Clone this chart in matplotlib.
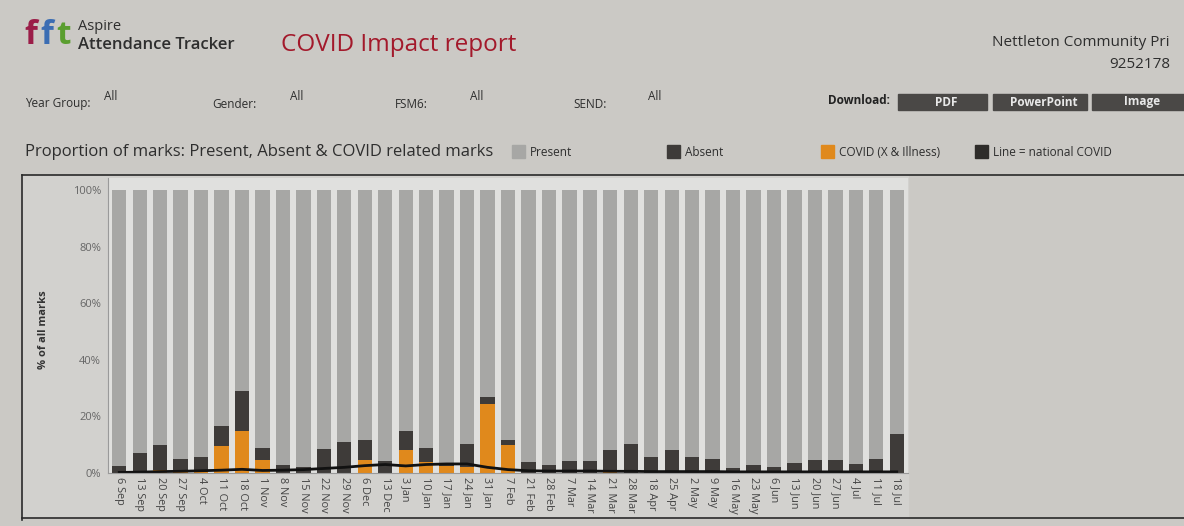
import numpy as np
import matplotlib.pyplot as plt
from matplotlib.patches import Rectangle
from matplotlib.lines import Line2D

# week labels (x axis)
weeks = ['6 Sep', '13 Sep', '20 Sep', '27 Sep', '4 Oct', '11 Oct', '18 Oct',
         '1 Nov', '8 Nov', '15 Nov', '22 Nov', '29 Nov', '6 Dec', '13 Dec',
         '3 Jan', '10 Jan', '17 Jan', '24 Jan', '31 Jan', '7 Feb', '21 Feb',
         '28 Feb', '7 Mar', '14 Mar', '21 Mar', '28 Mar', '18 Apr', '25 Apr',
         '2 May', '9 May', '16 May', '23 May', '6 Jun', '13 Jun', '20 Jun',
         '27 Jun', '4 Jul', '11 Jul', '18 Jul']

# % of marks
covid = [0, 0, 1.0, 0.5, 0.3, 9.5, 14.8, 4.7, 0, 0, 0, 0, 4.7, 0,
         8.3, 4.0, 2.5, 2.2, 24.5, 9.8, 0, 0, 0, 0, 0.5, 0, 0, 0,
         0, 0, 0, 0, 0, 0, 0, 0, 0, 0, 0]
absent = [2.5, 7.0, 9.0, 4.5, 5.5, 7.2, 14.2, 4.3, 3.0, 2.2, 8.5, 10.9, 6.9, 4.1,
          6.7, 5.0, 0.5, 8.1, 2.5, 1.7, 4.0, 3.0, 4.2, 4.3, 7.5, 10.3, 5.7, 8.0,
          5.6, 4.9, 1.7, 2.9, 2.0, 3.6, 4.6, 4.6, 3.2, 5.0, 13.6]
national = [0.2, 0.3, 0.5, 0.6, 0.8, 1.0, 1.3, 0.9, 1.0, 1.2, 1.6, 2.0, 2.6, 3.0,
            2.5, 3.0, 3.2, 3.2, 2.0, 1.2, 0.8, 0.7, 0.7, 0.7, 0.6, 0.6, 0.5, 0.5,
            0.5, 0.5, 0.4, 0.4, 0.4, 0.4, 0.4, 0.4, 0.4, 0.4, 0.4]

W, H = 1184, 526
def fx(x):
    return x / W
def fy(y):
    return 1 - y / H

c_present = '#a7a7a5'
c_absent = '#3e3b39'
c_covid = '#e0891c'
c_text = '#2e2e2e'

plt.rcParams['font.family'] = ['Open Sans', 'DejaVu Sans']
fig = plt.figure(figsize=(11.84, 5.26), dpi=100, facecolor='#cbc9c5')

# lighter chart panel + frame lines
fig.patches.append(Rectangle((fx(22), fy(518)), fx(908) - fx(22), (518 - 176) / H,
                             transform=fig.transFigure, color='#d2d1ce', zorder=-5))
for xs, ys in [([22, 1184], [175, 175]), ([22, 22], [175, 520]), ([22, 1184], [518, 518])]:
    fig.add_artist(Line2D([fx(v) for v in xs], [fy(v) for v in ys],
                          color='#2a2a2a', lw=1.2, transform=fig.transFigure))

# header
fig.text(fx(24), fy(36), 'f', color='#9b1d48', fontsize=24, fontweight='bold', va='center')
fig.text(fx(40), fy(36), 'f', color='#3b6db3', fontsize=24, fontweight='bold', va='center')
fig.text(fx(56), fy(36), 't', color='#5a9e2f', fontsize=24, fontweight='bold', va='center')
fig.text(fx(78), fy(27), 'Aspire', color=c_text, fontsize=10.5, va='center')
fig.text(fx(78), fy(45), 'Attendance Tracker', color=c_text, fontsize=12,
         fontweight='semibold', va='center')
fig.text(fx(281), fy(45), 'COVID Impact report', color='#a3192b', fontsize=17.5, va='center')
fig.text(fx(1170), fy(42), 'Nettleton Community Pri', color=c_text, fontsize=11,
         ha='right', va='center')
fig.text(fx(1170), fy(64), '9252178', color=c_text, fontsize=11, ha='right', va='center')

filters = [('Year Group:', 25, 104), ('Gender:', 212, 290), ('FSM6:', 395, 470), ('SEND:', 573, 648)]
for lab, xl, xv in filters:
    fig.text(fx(xl), fy(104), lab, color=c_text, fontsize=8.5, va='center')
    fig.text(fx(xv), fy(97), 'All', color=c_text, fontsize=8.5, va='center')

fig.text(fx(828), fy(101), 'Download:', color='#222', fontsize=8.5, fontweight='bold', va='center')
buttons = [('PDF', 898, 987), ('PowerPoint', 993, 1087), ('Image', 1092, 1184)]
for lab, x0, x1 in buttons:
    fig.patches.append(Rectangle((fx(x0), fy(110)), fx(x1) - fx(x0), 16 / H,
                                 transform=fig.transFigure, color='#4a4846'))
    fig.text(fx((x0 + x1) / 2 + 4), fy(102), lab, color='#e8e8e8', fontsize=8.5,
             fontweight='bold', ha='center', va='center')

fig.text(fx(25), fy(152), 'Proportion of marks: Present, Absent & COVID related marks',
         color=c_text, fontsize=12, va='center')
legend = [('Present', 512, c_present), ('Absent', 667, c_absent),
          ('COVID (X & Illness)', 821, c_covid), ('Line = national COVID', 975, '#2e2c2a')]
for lab, x0, col in legend:
    fig.patches.append(Rectangle((fx(x0), fy(158)), 13 / W, 13 / H,
                                 transform=fig.transFigure, color=col))
    fig.text(fx(x0 + 18), fy(152), lab, color=c_text, fontsize=8.5, va='center')

# chart
ax = fig.add_axes([fx(108), fy(473), fx(908) - fx(108), (473 - 178) / H])
ax.set_zorder(2)
ax.set_facecolor('#e0e0de')
x = np.arange(len(weeks))
covid_a = np.array(covid)
absent_a = np.array(absent)
present = 100 - covid_a - absent_a
ax.bar(x, covid_a, 0.7, color=c_covid)
ax.bar(x, absent_a, 0.7, bottom=covid_a, color=c_absent)
ax.bar(x, present, 0.7, bottom=covid_a + absent_a, color=c_present)
ax.plot(x, national, color='#111', lw=2)

ax.set_xlim(-0.55, len(weeks) - 0.45)
ax.set_ylim(0, 104.2)
ax.set_xticks(x, weeks, rotation=-90, fontsize=7.8, color='#444')
ax.set_yticks(np.arange(0, 101, 20), [f'{v}%' for v in range(0, 101, 20)],
              fontsize=8, color='#666')
ax.tick_params(length=0)
ax.tick_params(axis='x', pad=3)
ax.tick_params(axis='y', pad=5)
for s in ['top', 'right']:
    ax.spines[s].set_visible(False)
for s in ['left', 'bottom']:
    ax.spines[s].set_color('#9a9a9a')
    ax.spines[s].set_linewidth(0.8)

fig.text(fx(44), fy(330), '% of all marks', rotation=90, color='#333', fontsize=8,
         fontweight='bold', ha='center', va='center')

fig.savefig('out.png', dpi=100, facecolor=fig.get_facecolor())
